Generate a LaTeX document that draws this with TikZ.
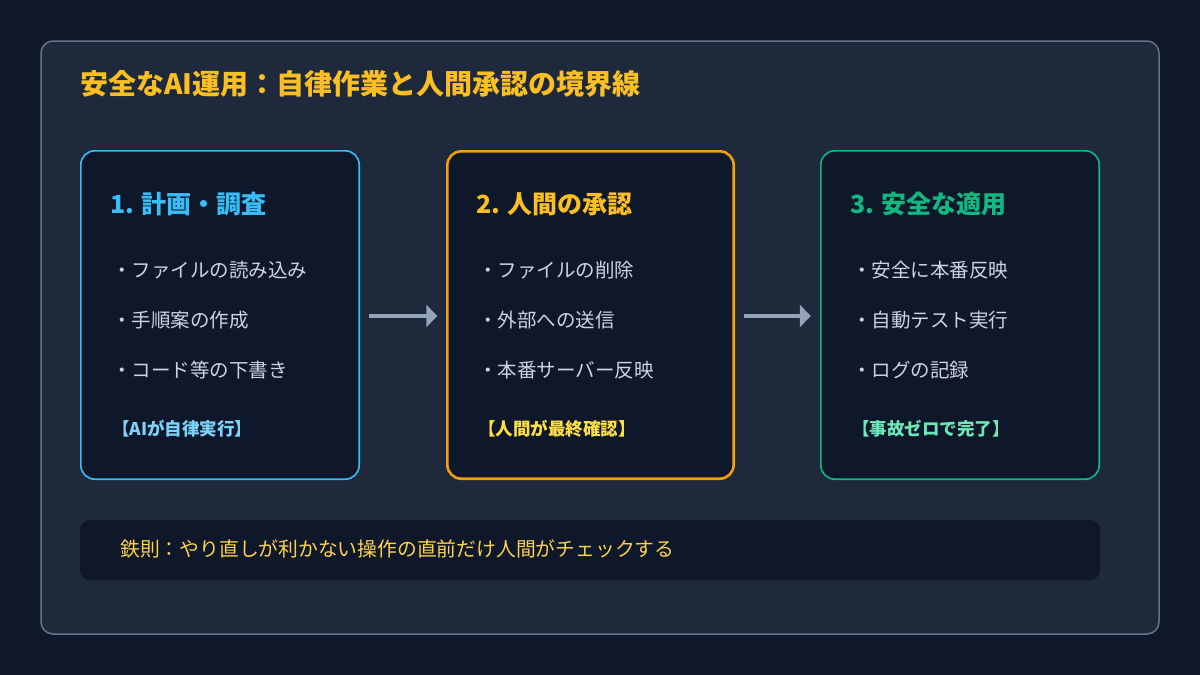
\documentclass[tikz,border=0pt]{standalone}
\usepackage{fontspec}
\setmainfont{Noto Sans CJK JP}
\usepackage{xcolor}
\usetikzlibrary{arrows.meta,positioning}

\definecolor{pagebg}{HTML}{0F172A}
\definecolor{panelbg}{HTML}{1E293B}
\definecolor{panelline}{HTML}{64748B}
\definecolor{skyline}{HTML}{38BDF8}
\definecolor{ambline}{HTML}{F59E0B}
\definecolor{greenline}{HTML}{10B981}
\definecolor{titleamb}{HTML}{FBBF24}
\definecolor{itemgray}{HTML}{CBD5E1}
\definecolor{arrowgray}{HTML}{94A3B8}
\definecolor{tagsky}{HTML}{7DD3FC}
\definecolor{tagyellow}{HTML}{FDE047}
\definecolor{taggreen}{HTML}{6EE7B7}
\definecolor{ruleyellow}{HTML}{FCD34D}

\tikzset{
  stagebox/.style={draw, line width=1.6pt, fill=pagebg, rounded corners=14pt,
    minimum width=278.4pt, minimum height=328.4pt, anchor=north west, inner sep=0pt, outer sep=0pt},
  heading/.style={anchor=west, font=\bfseries\fontsize{25}{30}\selectfont, inner sep=0pt},
  item/.style={anchor=west, text=itemgray, font=\fontsize{19.5}{23}\selectfont, inner sep=0pt},
  tag/.style={anchor=west, font=\bfseries\fontsize{17.5}{21}\selectfont, inner sep=0pt},
  flow/.style={draw=arrowgray, line width=4pt, shorten <=10pt, shorten >=10pt,
    -{Triangle[length=11pt,width=22pt]}}
}

\begin{document}
\begin{tikzpicture}[x=1pt,y=-1pt]
% Background and panel
\fill[pagebg] (0,0) rectangle (1200,675);
\useasboundingbox (0,0) rectangle (1200,675);
\draw[panelline, line width=1.5pt, fill=panelbg, rounded corners=12pt] (41,41) rectangle (1159,634);

% Title
\node[anchor=west, text=titleamb, font=\bfseries\fontsize{28}{33}\selectfont, inner sep=0pt]
  (title) at (80,84) {安全なAI運用：自律作業と人間承認の境界線};

% Stage boxes
\node[stagebox, draw=skyline] (plan) at (80.8,150.8) {};
\node[stagebox, draw=ambline, line width=2.6pt, minimum width=286.4pt, minimum height=327.4pt] (approve) at (447.3,151.3) {};
\node[stagebox, draw=greenline] (apply) at (820.8,150.8) {};

% Stage 1
\node[heading, text=skyline] (planhead) at (110,204) {1. 計画・調査};
\node[item] (plana) at (112,270) {・ファイルの読み込み};
\node[item] (planb) at (112,320) {・手順案の作成};
\node[item] (planc) at (112,370) {・コード等の下書き};
\node[tag, text=tagsky] (plantag) at (112,429) {【AIが自律実行】};

% Stage 2
\node[heading, text=titleamb] (approvehead) at (476,204) {2. 人間の承認};
\node[item] (approvea) at (478,270) {・ファイルの削除};
\node[item] (approveb) at (478,320) {・外部への送信};
\node[item] (approvec) at (478,370) {・本番サーバー反映};
\node[tag, text=tagyellow] (approvetag) at (478,429) {【人間が最終確認】};

% Stage 3
\node[heading, text=greenline] (applyhead) at (850,204) {3. 安全な適用};
\node[item] (applya) at (852,270) {・安全に本番反映};
\node[item] (applyb) at (852,320) {・自動テスト実行};
\node[item] (applyc) at (852,370) {・ログの記録};
\node[tag, text=taggreen] (applytag) at (852,429) {【事故ゼロで完了】};

% Flow arrows
\draw[flow] (plan.east |- 0,316) -- (approve.west |- 0,316);
\draw[flow] (approve.east |- 0,316) -- (apply.west |- 0,316);

% Rule bar
\fill[pagebg, rounded corners=10pt] (80,520) rectangle (1100,580);
\node[anchor=west, text=ruleyellow, font=\fontsize{19.8}{24}\selectfont, inner sep=0pt]
  (rule) at (120,549) {鉄則：やり直しが利かない操作の直前だけ人間がチェックする};
\end{tikzpicture}
\end{document}
